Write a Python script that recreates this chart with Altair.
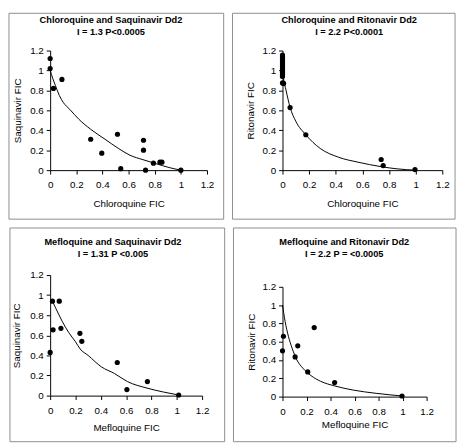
import altair as alt
import pandas as pd

TICKS = [0, 0.2, 0.4, 0.6, 0.8, 1.0, 1.2]

# Panel 1: Chloroquine and Saquinavir Dd2
P1_TITLE = ["Chloroquine and Saquinavir Dd2", "I = 1.3 P<0.0005"]
P1_XT, P1_YT = "Chloroquine FIC", "Saquinavir FIC"
P1_PX = [0, 0, 0.025, 0.09, 0.31, 0.395, 0.515, 0.54, 0.714, 0.714, 0.73, 0.79, 0.84, 0.855, 1.0]
P1_PY = [1.12, 1.02, 0.82, 0.91, 0.31, 0.17, 0.36, 0.015, 0.30, 0.20, 0.0, 0.07, 0.08, 0.08, 0.0]
P1_CX = [0, 0.02, 0.04, 0.07, 0.10, 0.15, 0.22, 0.31, 0.42, 0.52, 0.61, 0.71, 0.81, 0.91, 1.0]
P1_CY = [1.0, 0.92, 0.85, 0.75, 0.68, 0.61, 0.51, 0.41, 0.31, 0.22, 0.15, 0.105, 0.065, 0.026, 0.0]

# Panel 2: Chloroquine and Ritonavir Dd2
P2_TITLE = ["Chloroquine and Ritonavir Dd2", "I = 2.2 P<0.0001"]
P2_XT, P2_YT = "Chloroquine FIC", "Ritonavir FIC"
P2_PX = [0, 0, 0, 0, 0, 0, 0, 0, 0, 0, 0, 0, 0, 0.008, 0.057, 0.175, 0.741, 0.756, 0.995]
P2_PY = [0.94, 0.96, 0.98, 1.0, 1.02, 1.04, 1.06, 1.08, 1.10, 1.12, 1.14, 1.155, 0.875, 0.87,
         0.628, 0.355, 0.107, 0.046, 0.006]
P2_CX = [0, 0.01, 0.025, 0.057, 0.1, 0.175, 0.283, 0.42, 0.567, 0.74, 0.86, 1.0]
P2_CY = [1.0, 0.9, 0.81, 0.63, 0.49, 0.355, 0.218, 0.13, 0.08, 0.035, 0.013, 0.0]

# Panel 3: Mefloquine and Saquinavir Dd2
P3_TITLE = ["Mefloquine and Saquinavir Dd2", "I = 1.31 P <0.005"]
P3_XT, P3_YT = "Mefloquine FIC", "Saquinavir FIC"
P3_PX = [0, 0.018, 0.023, 0.072, 0.085, 0.235, 0.25, 0.53, 0.606, 0.768, 1.015]
P3_PY = [0.43, 0.94, 0.655, 0.94, 0.67, 0.62, 0.54, 0.33, 0.06, 0.14, 0.006]
P3_CX = [0.018, 0.044, 0.095, 0.147, 0.198, 0.237, 0.30, 0.405, 0.508, 0.61, 0.765, 0.894, 1.015]
P3_CY = [0.94, 0.87, 0.74, 0.627, 0.54, 0.464, 0.40, 0.286, 0.22, 0.14, 0.075, 0.036, 0.006]

# Panel 4: Mefloquine and Ritonavir Dd2
P4_TITLE = ["Mefloquine and Ritonavir Dd2", "I = 2.2  P =  <0.0005"]
P4_XT, P4_YT = "Mefloquine FIC", "Ritonavir FIC"
P4_PX = [0, 0.008, 0.105, 0.127, 0.21, 0.264, 0.434, 0.995]
P4_PY = [0.50, 0.66, 0.434, 0.555, 0.27, 0.754, 0.153, 0.007]
P4_CX = [0, 0.022, 0.049, 0.08, 0.116, 0.17, 0.237, 0.318, 0.434, 0.59, 0.78, 0.995]
P4_CY = [1.0, 0.82, 0.66, 0.53, 0.41, 0.31, 0.23, 0.167, 0.117, 0.071, 0.036, 0.007]

FONT = "Liberation Sans"


def panel(title, xt, yt, px, py, cx, cy, W, H, top_gap, frame, tpos, xty, ytx):
    fl, ft, fr, fb = frame
    tx, ty1, ty2 = tpos
    xs = alt.Scale(domain=[0, 1.2], nice=False, zero=False)
    ys = alt.Scale(domain=[0, 1.2], nice=False, zero=False, range=[H, top_gap])
    common = dict(values=TICKS, tickCount=7, format="~g", labelOverlap=False, labelFlush=False,
                  labelBound=False, titleColor="black", titleBaseline="middle")
    xax = alt.Axis(title=xt, titleY=xty, **common)
    yax = alt.Axis(title=yt, titleX=ytx, **common)
    pts = pd.DataFrame({"x": px, "y": py})
    crv = pd.DataFrame({"x": cx, "y": cy})
    enc = dict(x=alt.X("x:Q", scale=xs, axis=xax), y=alt.Y("y:Q", scale=ys, axis=yax))
    line = alt.Chart(crv).mark_line(color="black", strokeWidth=1, interpolate="monotone").encode(**enc)
    dots = alt.Chart(pts).mark_circle(color="black", size=28, opacity=1).encode(**enc)
    box = alt.Chart(pd.DataFrame({"k": [0]})).mark_rect(
        fillOpacity=0, stroke="#8c8c8c", strokeWidth=1).encode(
        x=alt.value(fl), x2=alt.value(W + fr), y=alt.value(ft), y2=alt.value(H + fb))
    t1 = alt.Chart(pd.DataFrame({"t": [title[0]]})).mark_text(
        font=FONT, fontWeight="bold", fontSize=9.4, align="center", baseline="middle", color="black").encode(
        text="t:N", x=alt.value(tx), y=alt.value(ty1))
    t2 = alt.Chart(pd.DataFrame({"t": [title[1]]})).mark_text(
        font=FONT, fontWeight="bold", fontSize=9.4, align="center", baseline="middle", color="black").encode(
        text="t:N", x=alt.value(tx), y=alt.value(ty2))
    return alt.layer(box, line, dots, t1, t2).properties(width=W, height=H)


p1 = panel(P1_TITLE, P1_XT, P1_YT, P1_PX, P1_PY, P1_CX, P1_CY, 160, 122, 0,
           (-42, -38, 17, 50), (62, -31, -19), 34, -33)
p2 = panel(P2_TITLE, P2_XT, P2_YT, P2_PX, P2_PY, P2_CX, P2_CY, 163, 122, 0,
           (-51, -38, 13, 50), (68, -31, -19), 34, -33)
p3 = panel(P3_TITLE, P3_XT, P3_YT, P3_PX, P3_PY, P3_CX, P3_CY, 155, 123, 0,
           (-41, -48, 23, 47), (64, -34, -21), 33, -34)
p4 = panel(P4_TITLE, P4_XT, P4_YT, P4_PX, P4_PY, P4_CX, P4_CY, 147, 124, 12,
           (-50, -48, 30, 46), (63, -34, -21), 29, -32)

chart = alt.vconcat(
    alt.hconcat(p1, p2, spacing=7),
    alt.hconcat(p3, p4, spacing=7),
    spacing=7,
).properties(padding=0).configure_view(stroke=None).configure_axis(
    grid=False, domainColor="black", tickColor="black", labelColor="black", titleColor="black",
    labelFont=FONT, titleFont=FONT, labelFontSize=10, titleFontSize=10, titleFontWeight="normal",
    tickSize=4, domainWidth=1, tickWidth=1,
).configure_axisX(labelPadding=6).configure_axisY(labelPadding=3)

chart.save("out.html", embed_options={"renderer": "svg", "actions": False})
